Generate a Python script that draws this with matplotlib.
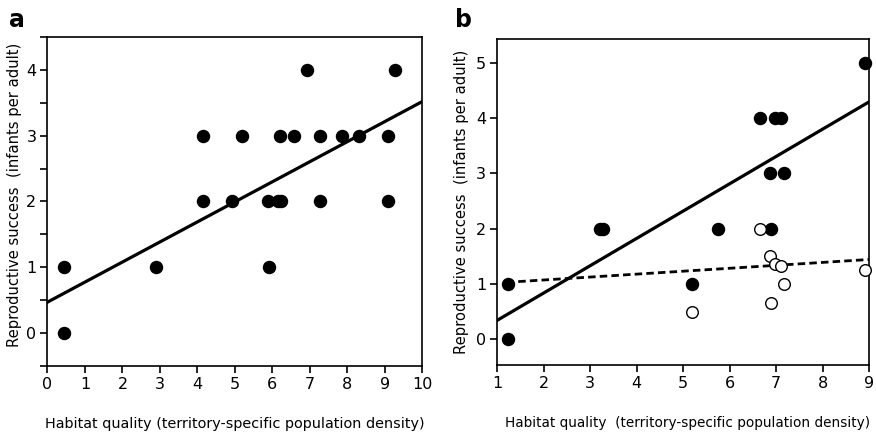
import numpy as np
import matplotlib
matplotlib.use("Agg")
import matplotlib.pyplot as plt
from matplotlib.ticker import MultipleLocator

# panel a data
a_x = [0.44, 0.44, 2.9, 4.15, 4.15, 4.93, 5.2, 5.88, 5.9, 6.14, 6.21, 6.23,
       6.58, 6.92, 7.26, 7.26, 7.85, 8.31, 9.07, 9.08, 9.26]
a_y = [0, 1, 1, 3, 2, 2, 3, 2, 1, 2, 3, 2, 3, 4, 3, 2, 3, 3, 2, 3, 4]
a_fit = [0.305, 0.47]          # slope, intercept
a_fit_range = [0, 10]

# panel b data: filled and open circles
b_fill_x = [8.91, 6.65, 6.98, 7.1, 6.88, 7.18, 3.2, 3.28, 5.76, 6.89, 1.24, 5.2, 1.24]
b_fill_y = [5, 4, 4, 4, 3, 3, 2, 2, 2, 2, 1, 1, 0]
b_open_x = [6.65, 6.87, 6.98, 7.1, 7.18, 6.9, 5.2, 8.91]
b_open_y = [2, 1.51, 1.35, 1.32, 1.0, 0.65, 0.49, 1.25]
b_fit_solid = [0.494, -0.154]
b_fit_solid_range = [1, 9]
b_fit_dash = [0.053, 0.963]
b_fit_dash_range = [1.2, 9]

xlabel_a = "Habitat quality (territory-specific population density)"
xlabel_b = "Habitat quality  (territory-specific population density)"
ylabel = "Reproductive success  (infants per adult)"

plt.rcParams['font.family'] = ['DejaVu Sans']

fig = plt.figure(figsize=(8.76, 4.36), dpi=100)
ax1 = fig.add_axes([0.0542, 0.1606, 0.428, 0.7546])
ax2 = fig.add_axes([0.5677, 0.1628, 0.4243, 0.7477])


def style(ax):
    for s in ax.spines.values():
        s.set_linewidth(1.2)
    ax.tick_params(direction='out', length=5, width=1.2, labelsize=11.5, pad=3)
    ax.tick_params(which='minor', direction='out', length=5, width=1.2)


# panel a
ax1.scatter(a_x, a_y, s=75, color='black', zorder=3, clip_on=False)
xs = np.array(a_fit_range)
ax1.plot(xs, a_fit[0] * xs + a_fit[1], color='black', lw=2.3)
ax1.set_xlim(0, 10)
ax1.set_ylim(-0.5, 4.5)
ax1.set_xticks(range(0, 11))
ax1.set_yticks(range(0, 5))
ax1.yaxis.set_minor_locator(MultipleLocator(0.5))
ax1.set_xlabel(xlabel_a, fontsize=10.4)
ax1.xaxis.set_label_coords(0.5, -0.155)
ax1.set_ylabel(ylabel, fontsize=10.6)
ax1.yaxis.set_label_coords(-0.068, 0.52)
style(ax1)
fig.text(0.01, 0.955, "a", fontsize=17, fontweight='bold', va='center')

# panel b
ax2.scatter(b_fill_x, b_fill_y, s=75, color='black', zorder=3, clip_on=False)
ax2.scatter(b_open_x, b_open_y, s=70, facecolors='white', edgecolors='black',
            linewidths=1.0, zorder=3, clip_on=False)
xs = np.array(b_fit_solid_range)
ax2.plot(xs, b_fit_solid[0] * xs + b_fit_solid[1], color='black', lw=2.3)
xs = np.array(b_fit_dash_range)
ax2.plot(xs, b_fit_dash[0] * xs + b_fit_dash[1], color='black', lw=2.0,
         linestyle=(0, (2.7, 1.5)))
ax2.set_xlim(1, 9)
ax2.set_ylim(-0.47, 5.43)
ax2.set_xticks(range(1, 10))
ax2.set_yticks(range(0, 6))
ax2.set_xlabel(xlabel_b, fontsize=9.8)
ax2.xaxis.set_label_coords(0.513, -0.155)
ax2.set_ylabel(ylabel, fontsize=10.6, labelpad=5)
style(ax2)
fig.text(0.5195, 0.955, "b", fontsize=17, fontweight='bold', va='center')

fig.savefig("out.png", dpi=100)
